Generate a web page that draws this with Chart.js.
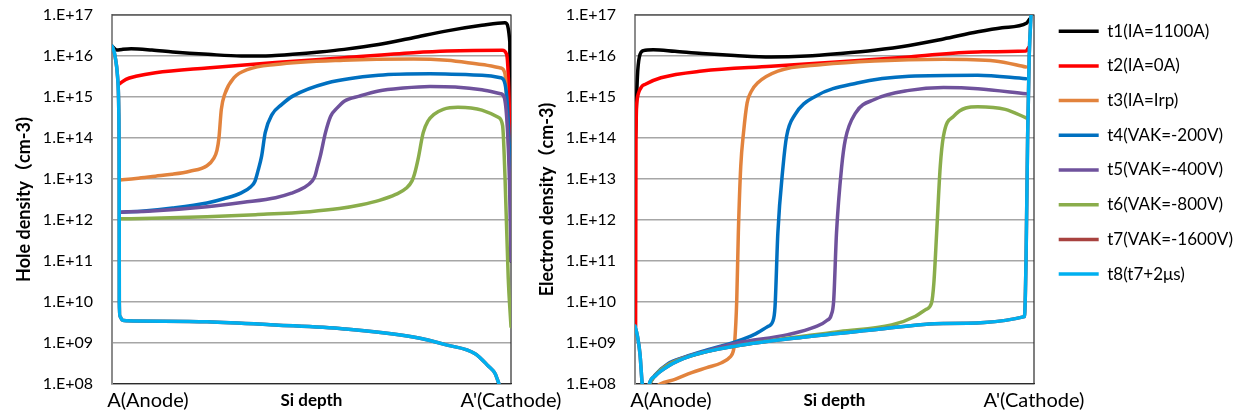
<!DOCTYPE html>
<html>
<head>
<meta charset="utf-8">
<title>Hole / electron density</title>
<script src="https://cdn.jsdelivr.net/npm/chart.js@4.4.1/dist/chart.umd.min.js"></script>
<style>
    html, body { margin: 0; padding: 0; background: #fff; }
    body { width: 1239px; height: 414px; position: relative; overflow: hidden; }
    canvas { position: absolute; top: 0; }
    #holeChart { left: 0; }
    #electronChart { left: 530px; }
</style>
</head>
<body>
<canvas id="holeChart" width="580" height="414"></canvas>
<canvas id="electronChart" width="709" height="414"></canvas>
<script>
// x = position along A-A' (% of the cut line), y = density in cm-3
const seriesNames = ['t1(IA=1100A)', 't2(IA=0A)', 't3(IA=Irp)', 't4(VAK=-200V)',
    't5(VAK=-400V)', 't6(VAK=-800V)', 't7(VAK=-1600V)', 't8(t7+2\u03bcs)'];
const seriesColors = ['#000000', '#ff0000', '#e2833d', '#0070c0',
    '#6f529c', '#8aad4b', '#a8423f', '#00b0f0'];

const yTickValues = [1e8, 1e9, 1e10, 1e11, 1e12, 1e13, 1e14, 1e15, 1e16, 1e17];
const yTickLabels = ['1.E+08', '1.E+09', '1.E+10', '1.E+11', '1.E+12',
    '1.E+13', '1.E+14', '1.E+15', '1.E+16', '1.E+17'];
const xTickValues = [9, 100];
const xTickLabels = ['A(Anode)', "A'(Cathode)"];

// hole density
const holeT1 = [[0, 1.75e16], [1.2, 1.4e16], [2.5, 1.45e16], [4.8, 1.5e16], [10, 1.4e16], [15.2, 1.26e16],
    [24, 1.1e16], [32.4, 1.0e16], [40, 1.02e16], [45.3, 1.1e16], [52, 1.25e16], [58.2, 1.45e16],
    [66.8, 1.9e16], [75.5, 2.8e16], [84, 4.1e16], [92.7, 5.6e16], [98.5, 6.5e16], [99.7, 2.2e16], [100, 1e11]];
const holeT2 = [[1.9, 2.1e15], [3.5, 2.7e15], [6, 3.2e15], [10.9, 3.9e15], [23.8, 5.1e15], [41, 6.9e15],
    [58.2, 9.1e15], [75.5, 1.2e16], [84, 1.32e16], [97.8, 1.38e16], [98.9, 1.1e16], [99.8, 7e13], [100, 3e12]];
const holeT3 = [[2.0, 9.5e12], [6, 1.03e13], [10.9, 1.17e13], [15, 1.3e13], [19.5, 1.55e13], [23.8, 2.1e13],
    [25.5, 3.2e13], [26.3, 5e13], [26.8, 1e14], [27.4, 5e14], [28.3, 1.2e15], [30.6, 2.95e15], [34.1, 4.7e15],
    [41, 6.2e15], [58, 7.9e15], [75.5, 8.5e15], [84, 7.9e15], [92.7, 6.2e15], [97.4, 5.1e15], [98.5, 3.7e15],
    [99.3, 1e14], [100, 5e12]];
const holeT4 = [[2.2, 1.55e12], [8, 1.65e12], [15.2, 1.95e12], [23.8, 2.6e12], [28, 3.3e12], [32.4, 4.6e12],
    [34.8, 6.5e12], [35.8, 8.7e12], [36.6, 1.6e13], [37.5, 3.6e13], [38.4, 1.35e14], [40.1, 3.7e14],
    [42.5, 6.5e14], [45.3, 1.05e15], [53.9, 2.2e15], [66.8, 3.4e15], [79.7, 3.7e15], [92.7, 3.4e15],
    [97.4, 2.95e15], [98.5, 2.1e15], [99.5, 1e14], [100, 1.2e12]];
const holeT5 = [[2.2, 1.55e12], [10, 1.65e12], [23.8, 2.1e12], [33, 2.7e12], [41, 3.5e12], [45, 4.5e12],
    [47.9, 6e12], [50.2, 9e12], [50.9, 1.2e13], [51.5, 2e13], [52.2, 3.6e13], [53.5, 1.35e14], [54.8, 3.4e14],
    [56.5, 5.5e14], [58.2, 7.9e14], [62, 1.05e15], [66.8, 1.4e15], [73, 1.65e15], [79.7, 1.8e15],
    [86, 1.75e15], [92.7, 1.5e15], [97.4, 1.2e15], [98.3, 9.8e14], [99.6, 1e13], [100, 1e11]];
const holeT6 = [[2.1, 1.07e12], [10, 1.1e12], [23.8, 1.2e12], [36, 1.35e12], [49.6, 1.6e12], [57, 1.9e12],
    [62.5, 2.35e12], [67, 3e12], [71.1, 4.2e12], [73.8, 6e12], [75.2, 9e12], [75.8, 1.3e13], [76.7, 3e13],
    [78, 1.35e14], [79.2, 2.6e14], [80.6, 3.7e14], [83, 5e14], [86.7, 5.6e14], [90, 5.4e14], [92.7, 4.8e14],
    [96.8, 3.2e14], [97.9, 2e14], [98.5, 1.1e13], [99.3, 4e10], [100, 2.5e9]];
const holeT7 = [[0, 1.75e16], [0.4, 1.4e16], [0.8, 9.5e15], [1.4, 3.1e15], [1.7, 4.8e14], [1.8, 1.1e13],
    [1.83, 1e10], [2.0, 4.5e9], [2.6, 3.6e9], [3.7, 3.5e9], [23.8, 3.3e9], [41, 2.75e9], [58.2, 2.2e9],
    [75.5, 1.4e9], [84, 8.9e8], [91, 5.5e8], [94.3, 2.75e8], [96, 1.8e8], [97, 1e8], [97.6, 7e7]];
const holeT8 = [[0, 1.75e16], [0.4, 1.4e16], [0.8, 9.5e15], [1.4, 3.1e15], [1.7, 4.8e14], [1.8, 1.1e13],
    [1.83, 1e10], [2.0, 4.5e9], [2.6, 3.6e9], [3.7, 3.5e9], [23.8, 3.3e9], [41, 2.75e9], [58.2, 2.2e9],
    [75.5, 1.4e9], [84, 8.9e8], [91, 5.5e8], [94.3, 2.75e8], [96, 1.8e8], [97, 1e8], [97.6, 7e7]];

// electron density
const elecT1 = [[0.1, 1e14], [0.6, 3.1e15], [1.1, 9.5e15], [2.1, 1.35e16], [4.6, 1.42e16], [10, 1.3e16],
    [16.8, 1.15e16], [25, 1.03e16], [34.1, 9.5e15], [43, 1e16], [51.4, 1.15e16], [60, 1.38e16],
    [68.7, 1.8e16], [77.3, 2.6e16], [85.9, 3.9e16], [92, 4.9e16], [98.2, 6.4e16], [98.9, 8e16]];
const elecT2 = [[0.15, 2.5e9], [0.2, 1e12], [0.25, 1e14], [0.5, 8e14], [0.9, 1.26e15], [1.7, 1.8e15],
    [2.6, 2.05e15], [6.5, 2.95e15], [16.8, 4.3e15], [34.1, 5.6e15], [51.4, 7.2e15], [68.7, 9.5e15],
    [85.9, 1.26e16], [98, 1.32e16], [98.6, 1.6e16]];
const elecT3 = [[5.0, 8e7], [6.3, 1e8], [10, 1.3e8], [14.2, 1.9e8], [18, 2.5e8], [21.7, 3.3e8], [23.8, 4.5e8],
    [24.6, 6.2e8], [25, 1.1e9], [25.5, 1.1e10], [25.9, 4.8e11], [26.5, 2e13], [27.2, 1.35e14], [28.1, 7.2e14],
    [29.2, 1.4e15], [30.7, 2.2e15], [35.8, 4.3e15], [47, 6.2e15], [60, 7.6e15], [77.3, 8.3e15],
    [90.2, 7.6e15], [98, 5.4e15]];
const elecT4 = [[3.3, 9e7], [5.0, 1.65e8], [8.2, 3.1e8], [12, 4.4e8], [16.8, 6.2e8], [25.5, 1.1e9],
    [29.8, 1.6e9], [33.2, 2.5e9], [34.5, 3.3e9], [35.1, 7.8e9], [35.8, 4.8e11], [37.1, 2e13], [38, 1.1e14],
    [40.1, 3.7e14], [45.3, 1.05e15], [55.7, 2.2e15], [68.7, 3.2e15], [85.9, 3.4e15], [98, 2.8e15]];
const elecT5 = [[3.3, 9e7], [5.0, 1.6e8], [8.2, 3e8], [16.8, 6e8], [25.5, 1.0e9], [38.3, 1.6e9],
    [45.3, 2.5e9], [48, 3.5e9], [49.2, 4.9e9], [49.8, 1.1e10], [50.5, 4.8e11], [51.8, 2e13], [52.7, 9e13],
    [55.3, 4.1e14], [60, 8.7e14], [68.7, 1.45e15], [77.3, 1.7e15], [85.9, 1.6e15], [98, 1.2e15]];
const elecT6 = [[3.3, 9e7], [5.0, 1.6e8], [8.2, 2.9e8], [16.8, 5.8e8], [25.5, 8.6e8], [38, 1.3e9],
    [51.4, 1.9e9], [64.3, 2.75e9], [70.3, 4.5e9], [72.8, 6.5e9], [74.3, 9.3e9], [74.9, 2.9e10],
    [75.6, 4.8e11], [76.5, 2e13], [77.3, 1.1e14], [79.9, 3.4e14], [85.9, 5.8e14], [92.8, 5e14], [98, 3.1e14]];
const elecT7 = [[0, 2.6e9], [0.6, 1.5e9], [1.25, 5.4e8], [1.8, 1e8], [2.3, 4e7], [3.0, 4e7], [3.6, 1e8],
    [5.0, 1.55e8], [8.4, 2.75e8], [14.2, 4.9e8], [25.5, 8.5e8], [42.7, 1.4e9], [60, 2.1e9], [77.3, 3e9],
    [97.6, 4.4e9], [98.0, 1e11], [98.4, 1e14], [98.8, 1e16], [99.3, 1.2e17]];
const elecT8 = [[0, 2.6e9], [0.6, 1.5e9], [1.25, 5.4e8], [1.8, 1e8], [2.3, 4e7], [3.0, 4e7], [3.6, 1e8],
    [5.0, 1.55e8], [8.4, 2.75e8], [14.2, 4.9e8], [25.5, 8.5e8], [42.7, 1.4e9], [60, 2.1e9], [77.3, 3e9],
    [97.6, 4.4e9], [98.0, 1e11], [98.4, 1e14], [98.8, 1e16], [99.3, 1.2e17]];

Chart.defaults.font.family = 'Lato, "Noto Sans CJK SC", sans-serif';
Chart.defaults.color = '#000';

// top and right edge of the plot area
const plotFrame = {
    id: 'plotFrame',
    beforeDatasetsDraw(chart) {
        const { ctx, chartArea: a } = chart;
        ctx.save();
        ctx.strokeStyle = '#2b2b2b';
        ctx.lineWidth = 1.2;
        ctx.beginPath();
        ctx.moveTo(a.left, a.top);
        ctx.lineTo(a.right, a.top);
        ctx.lineTo(a.right, a.bottom);
        ctx.stroke();
        ctx.restore();
    }
};

// push the legend a little away from the plot and let it use the rest of the canvas
const legendNudge = {
    id: 'legendNudge',
    afterLayout(chart, args, opts) {
        const legend = chart.legend;
        if (!legend) {
            return;
        }
        legend.left += opts.dx || 0;
        legend.right = chart.width;
        legend.width = legend.right - legend.left;
    }
};

function buildDatasets(seriesList) {
    return seriesList.map((pairs, i) => ({
        label: seriesNames[i],
        data: pairs.map(p => ({ x: p[0], y: p[1] })),
        borderColor: seriesColors[i],
        backgroundColor: seriesColors[i],
        borderWidth: 3.5,
        borderCapStyle: 'round',
        borderJoinStyle: 'round',
        pointRadius: 0,
        fill: false,
        cubicInterpolationMode: 'monotone',
        order: seriesList.length - i   // later series on top, like the original
    }));
}

function buildScales(yTitle) {
    return {
        x: {
            type: 'linear',
            min: 0,
            max: 100,
            grid: { display: false, drawTicks: false },
            border: { display: true, color: '#2b2b2b', width: 1.2 },
            afterBuildTicks: s => { s.ticks = xTickValues.map(v => ({ value: v })); },
            afterFit: s => { s.height = 30; },
            ticks: {
                autoSkip: false,
                maxRotation: 0,
                padding: 5,
                font: { size: 20 },
                callback: (v, i) => xTickLabels[i]
            },
            title: {
                display: true,
                text: 'Si depth',
                font: { size: 17, weight: 'bold' },
                padding: { top: 0, bottom: 3 }
            }
        },
        y: {
            type: 'logarithmic',
            min: 1e8,
            max: 1e17,
            grid: { color: '#a6a6a6', lineWidth: 1.5, drawTicks: false },
            border: { display: true, color: '#8c8c8c', width: 2 },
            afterBuildTicks: s => { s.ticks = yTickValues.map(v => ({ value: v })); },
            afterFit: s => { s.width = 100; s.paddingTop = 15; },
            ticks: {
                autoSkip: false,
                padding: 19,
                font: { size: 16 },
                callback: (v, i) => yTickLabels[i]
            },
            title: {
                display: true,
                text: yTitle,
                font: { size: 18, weight: 'bold' },
                padding: { top: 1, bottom: 0 }
            }
        }
    };
}

new Chart(document.getElementById('holeChart'), {
    type: 'line',
    data: {
        datasets: buildDatasets([holeT1, holeT2, holeT3, holeT4, holeT5, holeT6, holeT7, holeT8])
    },
    options: {
        responsive: false,
        animation: false,
        layout: { padding: { left: 12, top: 15, right: 69, bottom: 0 } },
        scales: buildScales('Hole density\uff08cm-3)'),
        plugins: {
            legend: { display: false },
            tooltip: { enabled: false }
        }
    },
    plugins: [plotFrame]
});

new Chart(document.getElementById('electronChart'), {
    type: 'line',
    data: {
        datasets: buildDatasets([elecT1, elecT2, elecT3, elecT4, elecT5, elecT6, elecT7, elecT8])
    },
    options: {
        responsive: false,
        animation: false,
        layout: { padding: { left: 5, top: 5, right: 45, bottom: 0 } },
        scales: buildScales('Electron density\uff08cm-3)'),
        plugins: {
            legend: {
                display: true,
                position: 'right',
                align: 'start',
                maxWidth: 160,
                labels: {
                    usePointStyle: true,
                    pointStyle: 'line',
                    pointStyleWidth: 40,
                    padding: 17.7,
                    color: '#000',
                    font: { size: 17 },
                    sort: (a, b) => a.datasetIndex - b.datasetIndex
                }
            },
            legendNudge: { dx: 7 },
            tooltip: { enabled: false }
        }
    },
    plugins: [plotFrame, legendNudge]
});
</script>
</body>
</html>
